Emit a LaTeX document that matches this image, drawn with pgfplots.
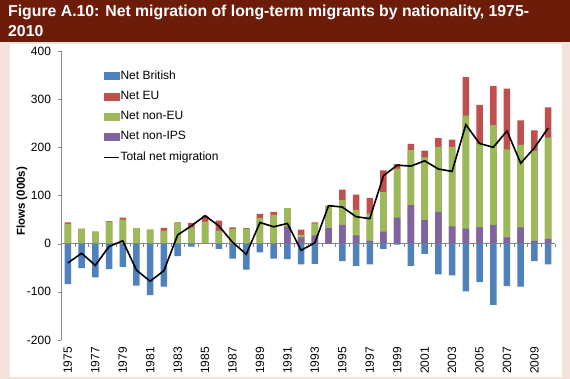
\documentclass[border=0pt]{standalone}
\usepackage{pgfplots}
\pgfplotsset{compat=1.18}
\usepackage{pgfplotstable}
\usepackage{fontspec}
\setmainfont{Liberation Sans}
\definecolor{brit}{HTML}{4F81BD}
\definecolor{eu}{HTML}{C0504D}
\definecolor{noneu}{HTML}{9BBB59}
\definecolor{nonips}{HTML}{8064A2}
\definecolor{titlebg}{RGB}{110,28,10}
\definecolor{pinkbg}{RGB}{242,228,220}
\definecolor{axgray}{RGB}{134,134,134}

\pgfplotstableread{
year brit eu noneu nonips
1975 -84 3 41 0
1976 -51 1 30 0
1977 -70 0 25 0
1978 -53 1 46 0
1979 -48 4 50 0
1980 -87 0 32 0
1981 -107 0 29 0
1982 -89 6 27 0
1983 -26 1 43 0
1984 -6 9 34 0
1985 0 12 46 0
1986 -11 21 27 0
1987 -31 4 30 0
1988 -54 1 31 0
1989 -18 9 53 0
1990 -31 6 60 0
1991 -32 0 38 36
1992 -43 11 5 13
1993 -42 2 25 17
1994 0 2 45 32
1995 -36 21 52 39
1996 -46 32 53 17
1997 -43 32 57 6
1998 -11 45 82 25
1999 -2 9 102 54
2000 -46 13 114 80
2001 -21 14 130 49
2002 -64 18 135 66
2003 -66 15 165 36
2004 -99 80 235 31
2005 -80 81 173 34
2006 -127 81 207 39
2007 -88 126 183 13
2008 -89 51 171 34
2009 -36 42 187 6
2010 -43 63 210 10
}\mig

\pgfplotsset{
  common/.style={
    scale only axis, width=494pt, height=289pt,
    at={(61pt,39pt)}, anchor=south west,
    xmin=1974.5, xmax=2010.5, ymin=-200, ymax=400,
  },
  /pgf/number format/1000 sep={},
}

\begin{document}
\begin{tikzpicture}[x=1pt,y=1pt]
\useasboundingbox (0,0) rectangle (570,379);
\fill[pinkbg] (0,0) rectangle (570,379);
\fill[white] (10,2) rectangle (562,335);
\fill[titlebg] (0,337) rectangle (570,379);
\node[anchor=base west, inner sep=0pt, text=white, font=\fontsize{15.8}{18}\selectfont\bfseries] at (8,362.5) {Figure A.10: Net migration of long-term migrants by nationality, 1975-};
\node[anchor=base west, inner sep=0pt, text=white, font=\fontsize{15.8}{18}\selectfont\bfseries] at (8,342.5) {2010};

% zero line with category ticks
\begin{axis}[common,
  axis x line=middle, axis y line=none,
  axis line style={-, draw=axgray},
  xtick={1974.5,1975.5,...,2010.5}, xticklabels={},
  tick align=center, major tick length=3.5pt,
  xtick style={draw=axgray, yshift=-1.75pt},
  ytick=\empty]
\addplot[draw=none] coordinates {(1980,0)};
\end{axis}

\begin{axis}[common,
  axis y line=left, axis x line*=bottom,
  x axis line style={draw=none},
  y axis line style={-, draw=axgray},
  ytick={-200,-100,...,400},
  ytick style={draw=axgray},
  tick align=outside, major tick length=3.5pt,
  xtick={1975,1977,...,2009},
  xtick style={draw=none},
  /pgf/number format/assume math mode=true,
  xticklabel style={rotate=90, anchor=east, font=\fontsize{12}{12}\selectfont, yshift=0pt},
  yticklabel style={font=\fontsize{12}{12}\selectfont, xshift=-3pt},
  ylabel={Flows (000s)},
  ylabel style={font=\fontsize{11.5}{12}\selectfont\bfseries, at={(axis description cs:-0.079,0.48)}, anchor=center},
  legend style={at={(0.079,0.945)}, anchor=north west, draw=none, fill=none,
    font=\fontsize{12}{12}\selectfont, row sep=6.3pt,
    nodes={inner sep=1pt, text height=9pt, text depth=3pt}},
  legend cell align=left,
]
\addplot[ybar, bar width=6.5pt, bar shift=0pt, fill=eu, draw=none, forget plot]
  table[x=year, y expr=\thisrow{eu}+\thisrow{noneu}+\thisrow{nonips}] {\mig};
\addplot[ybar, bar width=6.5pt, bar shift=0pt, fill=noneu, draw=none, forget plot]
  table[x=year, y expr=\thisrow{noneu}+\thisrow{nonips}] {\mig};
\addplot[ybar, bar width=6.5pt, bar shift=0pt, fill=nonips, draw=none, forget plot]
  table[x=year, y=nonips] {\mig};
\addplot[ybar, bar width=6.5pt, bar shift=0pt, fill=brit, draw=none, forget plot]
  table[x=year, y=brit] {\mig};
\addplot[black, line width=1.6pt, mark=none, sharp plot, forget plot]
  table[x=year, y expr=\thisrow{brit}+\thisrow{eu}+\thisrow{noneu}+\thisrow{nonips}] {\mig};

\addlegendimage{legend image code/.code={\fill[brit] (0pt,-3.5pt) rectangle (15pt,3.5pt);}}
\addlegendentry{Net British}
\addlegendimage{legend image code/.code={\fill[eu] (0pt,-3.5pt) rectangle (15pt,3.5pt);}}
\addlegendentry{Net EU}
\addlegendimage{legend image code/.code={\fill[noneu] (0pt,-3.5pt) rectangle (15pt,3.5pt);}}
\addlegendentry{Net non-EU}
\addlegendimage{legend image code/.code={\fill[nonips] (0pt,-3.5pt) rectangle (15pt,3.5pt);}}
\addlegendentry{Net non-IPS}
\addlegendimage{legend image code/.code={\draw[black, line width=1.3pt] (0pt,0pt) -- (15pt,0pt);}}
\addlegendentry{Total net migration}
\end{axis}
\end{tikzpicture}
\end{document}
